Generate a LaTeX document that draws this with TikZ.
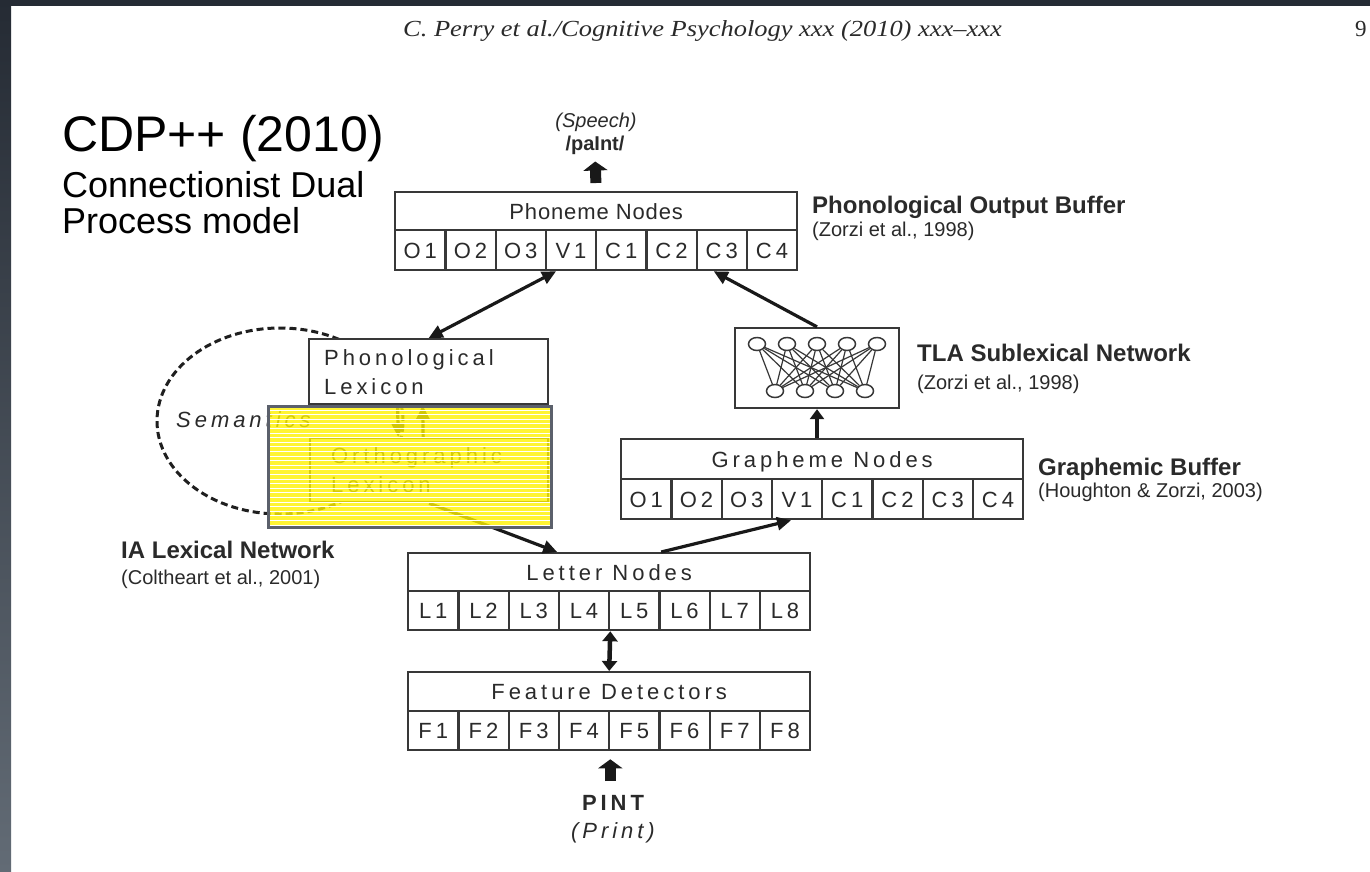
\documentclass[tikz,border=0pt]{standalone}
\usepackage{fontspec}
\setmainfont{Liberation Sans}
\newfontfamily\spacedfont[LetterSpace=18]{Liberation Sans}
\newfontfamily\phonfont[LetterSpace=4]{Liberation Sans}
\newfontfamily\headfont{Liberation Serif}
\usetikzlibrary{arrows.meta,shapes.geometric}
\definecolor{ink}{HTML}{2A2A2A}
\definecolor{frame}{HTML}{383838}
\definecolor{slidetop}{HTML}{252B34}
\definecolor{slidelow}{HTML}{626B75}
\definecolor{hlborder}{HTML}{5B606B}

\begin{document}
\begin{tikzpicture}[x=1pt,y=-1pt]
    \tikzset{cell/.style = {draw=frame, line width=2.3pt, inner sep=0pt, minimum width=50.25pt, minimum height=39pt, text height=16pt, text depth=0pt, anchor=north west, text=ink, font=\spacedfont\fontsize{22}{24}\selectfont}}
    \tikzset{bufhead/.style = {cell, minimum width=402pt, minimum height=38pt}}
    \tikzset{lexbox/.style = {draw=frame, line width=2.3pt, fill=white, anchor=north west, align=left, text=ink, font=\spacedfont\fontsize{22}{29}\selectfont}}
    \tikzset{lbl/.style = {anchor=base west, inner sep=0pt, text=ink, font=\bfseries\fontsize{24}{28}\selectfont}}
    \tikzset{cite/.style = {anchor=base west, inner sep=0pt, text=ink, font=\fontsize{20}{24}\selectfont}}
    \tikzset{unit/.style = {shape=ellipse, draw=frame, line width=1.5pt, fill=white, minimum width=17pt, minimum height=13pt, inner sep=0pt}}
    \tikzset{arr/.style = {draw=black!90, line width=3.2pt, -{Triangle[length=14pt,width=13pt]}}}
    \tikzset{darr/.style = {arr, {Triangle[length=14pt,width=13pt]}-{Triangle[length=14pt,width=13pt]}}}
    \tikzset{blockarr/.style = {draw=black!90, line width=11pt, -{Triangle[length=9pt,width=24pt]}}}

    % slide background
    \fill[white] (0,0) rectangle (1370,871);
    \shade[top color=slidetop, bottom color=slidelow] (0,0) rectangle (11,871);
    \fill[slidetop] (0,0) rectangle (1370,6);
    \useasboundingbox (0,0) rectangle (1370,871);

    % page header and slide title
    \node[anchor=base west, inner sep=0pt, text=ink, font=\headfont\itshape\fontsize{23}{26}\selectfont] (hdr) at (403,36) {\scalebox{1.15}[1]{C. Perry et al./Cognitive Psychology xxx (2010) xxx–xxx}};
    \node[anchor=base west, inner sep=0pt, text=ink, font=\headfont\fontsize{23}{26}\selectfont] (pgno) at (1355,36) {9};
    \node[anchor=base west, inner sep=0pt, font=\fontsize{50}{56}\selectfont] (ttl) at (62,151) {CDP++ (2010)};
    \node[anchor=base west, inner sep=0pt, font=\fontsize{36}{40}\selectfont] (sub1) at (62,197) {Connectionist Dual};
    \node[anchor=base west, inner sep=0pt, font=\fontsize{36}{40}\selectfont] (sub2) at (62,233) {Process model};

    % output
    \node[inner sep=0pt, text=ink, font=\itshape\fontsize{20}{24}\selectfont] (speech) at (596,122) {(Speech)};
    \node[inner sep=0pt, text=ink, font=\bfseries\fontsize{20}{24}\selectfont] (paint) at (595,145) {/paInt/};

    % phonological output buffer
    \node[bufhead, font=\phonfont\fontsize{22}{24}\selectfont] (phon) at (394,191) {Phoneme Nodes};
    \foreach \lab [count=\i] in {O1,O2,O3,V1,C1,C2,C3,C4}
        \node[cell, minimum height=40pt] (phon\i) at (343.75+50.25*\i,229) {\lab};

    % graphemic buffer
    \node[bufhead, minimum height=40pt] (graph) at (620,438) {Grapheme Nodes};
    \foreach \lab [count=\i] in {O1,O2,O3,V1,C1,C2,C3,C4}
        \node[cell, minimum height=40pt] (graph\i) at (569.75+50.25*\i,478) {\lab};

    % letters and features
    \node[bufhead] (let) at (407,552) {Letter Nodes};
    \foreach \i in {1,...,8}
        \node[cell] (let\i) at (356.75+50.25*\i,590) {L\i};
    \node[bufhead, minimum height=39pt] (feat) at (407,671) {Feature Detectors};
    \foreach \i in {1,...,8}
        \node[cell] (feat\i) at (356.75+50.25*\i,710) {F\i};

    % input
    \node[inner sep=0pt, text=ink, font=\spacedfont\bfseries\fontsize{22}{24}\selectfont] (pint) at (613,803) {PINT};
    \node[inner sep=0pt, text=ink, font=\spacedfont\itshape\fontsize{22}{24}\selectfont] (print) at (613,833) {(Print)};

    % lexical route
    \node[shape=ellipse, draw=black!88, line width=3pt, dash pattern=on 7pt off 4pt, minimum width=246pt, minimum height=186pt] (sem) at (280,421) {};
    \node[anchor=west, inner sep=0pt, text=ink, font=\spacedfont\itshape\fontsize{22}{24}\selectfont] (semlbl) at (176,420) {Semantics};
    \node[lexbox, minimum width=239pt, minimum height=65pt, text width=209pt, inner xsep=15pt] (plex) at (308,338) {Phonological\\Lexicon};
    \node[lexbox, minimum width=238pt, minimum height=64pt, text width=196pt, inner xsep=21pt] (olex) at (309,437) {Orthographic\\Lexicon};

    % sublexical network
    \node[draw=frame, line width=2.3pt, minimum width=164pt, minimum height=80pt] (tla) at (817,368) {};
    \foreach \x [count=\i] in {757,787,817,847,877}
        \node[unit] (t\i) at (\x,344) {};
    \foreach \x [count=\i] in {775,805,835,865}
        \node[unit] (b\i) at (\x,391) {};
    \foreach \i in {1,...,5}
        \foreach \j in {1,...,4}
            \draw[frame, line width=1.2pt] (t\i) -- (b\j);

    % labels
    \node[lbl] (pobl) at (812,213) {Phonological Output Buffer};
    \node[cite] (pobc) at (812,236) {(Zorzi et al., 1998)};
    \node[lbl] (tlal) at (917,361) {TLA Sublexical Network};
    \node[cite] (tlac) at (917,389) {(Zorzi et al., 1998)};
    \node[lbl] (gbl) at (1038,475) {Graphemic Buffer};
    \node[cite] (gbc) at (1038,497) {(Houghton \& Zorzi, 2003)};
    \node[lbl] (ial) at (121,558) {IA Lexical Network};
    \node[cite] (iac) at (121,584) {(Coltheart et al., 2001)};

    % connections
    \draw[darr] (plex.north) -- ([xshift=-15pt]phon4.south);
    \draw[arr] (tla.north) -- ([xshift=-8pt]phon7.south);
    \draw[arr, line width=4.5pt, -{Triangle[length=10pt,width=14pt]}] (tla.south |- graph.north) -- (tla.south);
    \draw[arr] ([xshift=52pt]let.north) -- ([xshift=-6pt]graph4.south);
    \draw[arr] (olex.south) -- ([xshift=-52pt]let.north);
    \draw[arr] ([xshift=-31pt]plex.south) -- ([xshift=-31pt]olex.north);
    \draw[arr] ([xshift=-6pt]olex.north) -- ([xshift=-6pt]plex.south);
    \draw[arr, line width=4.5pt, {Triangle[length=10pt,width=15pt]}-{Triangle[length=10pt,width=15pt]}] (let4.south east) -- (feat.north);
    \draw[blockarr, shorten <=8pt, shorten >=7pt] (phon.north) -- (paint.south);
    \draw[blockarr, shorten <=14pt, shorten >=8pt] (feat4.south east |- pint.north) -- (feat4.south east);

    % highlight
    \node[fill=yellow, fill opacity=0.8, outer sep=0pt, inner sep=0pt, minimum width=283pt, minimum height=121pt, anchor=north west] (hl) at (268.5,406.5) {};
    \foreach \y in {410,414.6,...,526}
        \draw[white, line width=0.9pt] (268.5,\y) -- (551.5,\y);
    \draw[hlborder, line width=3pt] (hl.north west) rectangle (hl.south east);
\end{tikzpicture}
\end{document}
